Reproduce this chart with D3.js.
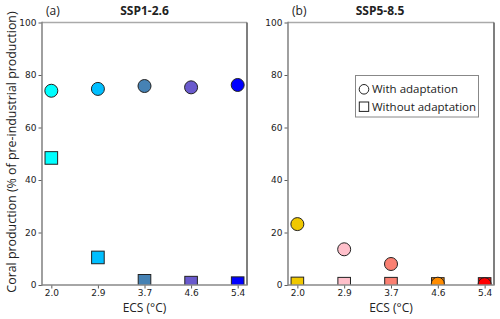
<!DOCTYPE html>
<html><head><meta charset="utf-8">
<script src="https://cdn.jsdelivr.net/npm/d3@7"></script>
<style>body{margin:0;background:#fff}svg{display:block}</style>
</head><body>
<svg id="c" width="500" height="319"></svg>
<script>
const ecs = ["2.0","2.9","3.7","4.6","5.4"];
const yTicks = [0,20,40,60,80,100];
const panelLetters = ["(a)","(b)"];
const panelTitles = ["SSP1-2.6","SSP5-8.5"];
const sspAWith = [74.0, 74.7, 75.8, 75.3, 76.2];
const sspAWithout = [48.4, 10.5, 1.6, 0.9, 0.7];
const sspBWith = [23.2, 13.6, 8.0, 0.5, 0.3];
const sspBWithout = [0.6, 0.5, 0.5, 0.4, 0.4];
const colorsA = ["#00FFFF","#00BFFF","#4682B4","#6A5ACD","#0000FF"];
const colorsB = ["#F0C800","#FFC0CB","#FA8072","#FF8C00","#FF0000"];
const legendLabels = ["With adaptation","Without adaptation"];

const svg = d3.select("#c");
const yTop = 22.5, yBot = 285;
const panels = [
  {x0:42, x1:247, withV:sspAWith, withoutV:sspAWithout, colors:colorsA, titleX:144.5, letterX:46},
  {x0:288, x1:494, withV:sspBWith, withoutV:sspBWithout, colors:colorsB, titleX:380, letterX:292}
];
const y = d3.scaleLinear().domain([0,100]).range([yBot, yTop]);

panels.forEach((p, pi) => {
  const x = d3.scaleLinear().domain([-0.2, 4.2]).range([p.x0, p.x1]);
  const g = svg.append("g");
  const cid = "clip" + pi;
  svg.append("clipPath").attr("id", cid).append("rect")
    .attr("x", p.x0).attr("y", yTop).attr("width", p.x1 - p.x0).attr("height", yBot - yTop);

  const ya = g.append("g").attr("transform", `translate(${p.x0},0)`)
    .call(d3.axisLeft(y).tickValues(yTicks).tickSize(3.5).tickPadding(2));
  const xa = g.append("g").attr("transform", `translate(0,${yBot})`)
    .call(d3.axisBottom(x).tickValues(d3.range(ecs.length)).tickFormat(i => ecs[i]).tickSize(3.5).tickPadding(1.5));
  [ya, xa].forEach(a => {
    a.select(".domain").remove();
    a.selectAll(".tick line").attr("stroke", "#333").attr("stroke-width", 0.8);
    a.selectAll(".tick text").attr("fill", "#222").style("font-family", "DejaVu Sans").style("font-size", "9px");
  });

  const m = g.append("g").attr("clip-path", `url(#${cid})`);
  m.selectAll("rect.sq").data(p.withoutV).join("rect").attr("class","sq")
    .attr("x", (d,i) => x(i) - 6.3).attr("y", d => y(d) - 6.3)
    .attr("width", 12.6).attr("height", 12.6)
    .attr("fill", (d,i) => p.colors[i]).attr("stroke", "#222").attr("stroke-width", 1);
  m.selectAll("circle.ci").data(p.withV).join("circle").attr("class","ci")
    .attr("cx", (d,i) => x(i)).attr("cy", d => y(d)).attr("r", 6.5)
    .attr("fill", (d,i) => p.colors[i]).attr("stroke", "#222").attr("stroke-width", 1);

  g.append("line").attr("x1", p.x0).attr("x2", p.x1).attr("y1", yTop).attr("y2", yTop).attr("stroke", "#aaa").attr("stroke-width", 1.5);
  g.append("line").attr("x1", p.x1).attr("x2", p.x1).attr("y1", yTop).attr("y2", yBot).attr("stroke", "#555").attr("stroke-width", 1.5);
  g.append("line").attr("x1", p.x0).attr("x2", p.x0).attr("y1", yTop - 0.7).attr("y2", yBot + 0.7).attr("stroke", "#888").attr("stroke-width", 1.6);
  g.append("line").attr("x1", p.x0).attr("x2", p.x1 + 0.7).attr("y1", yBot).attr("y2", yBot).attr("stroke", "#888").attr("stroke-width", 1.6);

  g.append("text").attr("x", p.letterX).attr("y", 15).text(panelLetters[pi])
    .style("font-family", "Open Sans").style("font-size", "12px").attr("fill", "#222");
  g.append("text").attr("x", p.titleX).attr("y", 15).attr("text-anchor", "middle").text(panelTitles[pi])
    .style("font-family", "Open Sans").style("font-size", "12px").style("font-weight", "bold").attr("fill", "#222");
  g.append("text").attr("x", (p.x0 + p.x1) / 2).attr("y", 312).attr("text-anchor", "middle").text("ECS (°C)")
    .style("font-family", "Open Sans").style("font-size", "12px").attr("fill", "#222");
});

svg.append("text").attr("transform", `translate(16,152) rotate(-90)`)
  .attr("text-anchor", "middle").text("Coral production (% of pre-industrial production)")
  .style("font-family", "Open Sans").style("font-size", "12.4px").attr("fill", "#222");

const lg = svg.append("g");
lg.append("rect").attr("x", 355.5).attr("y", 75.5).attr("width", 123).attr("height", 41.5)
  .attr("fill", "#fff").attr("stroke", "#888").attr("stroke-width", 1);
legendLabels.forEach((t, i) => {
  const cy = 89.3 + i * 17.4;
  if (i === 0) lg.append("circle").attr("cx", 364).attr("cy", cy).attr("r", 4.8).attr("fill", "#fff").attr("stroke", "#222").attr("stroke-width", 1);
  else lg.append("rect").attr("x", 359.3).attr("y", cy - 4.7).attr("width", 9.4).attr("height", 9.4).attr("fill", "#fff").attr("stroke", "#222").attr("stroke-width", 1);
  lg.append("text").attr("x", 372).attr("y", cy + 4).text(t)
    .style("font-family", "Open Sans").style("font-size", "11.5px").attr("fill", "#222");
});
</script>
</body></html>
